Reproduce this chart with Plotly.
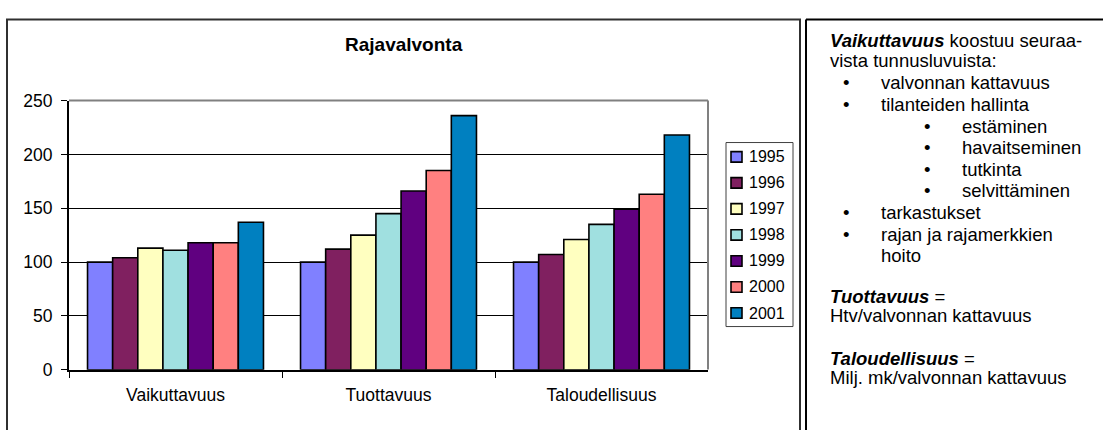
import plotly.graph_objects as go

# Chart data
categories = ["Vaikuttavuus", "Tuottavuus", "Taloudellisuus"]
years = ["1995", "1996", "1997", "1998", "1999", "2000", "2001"]
v1995 = [100, 100, 100]
v1996 = [104, 112, 107]
v1997 = [113, 125, 121]
v1998 = [111, 145, 135]
v1999 = [118, 166, 149]
v2000 = [118, 185, 163]
v2001 = [137, 236, 218]
series = [v1995, v1996, v1997, v1998, v1999, v2000, v2001]
colors = ["#8080FF", "#802060", "#FFFFC0", "#A0E0E0", "#600080", "#FF8080", "#0080C0"]
y_ticks = [0, 50, 100, 150, 200, 250]

title_text = "Rajavalvonta"

# Side panel: (text, x-pixel, y-pixel, bullet x-pixel)
side_lines = [
    ("<b><i>Vaikuttavuus</i></b> koostuu seuraa-", 828, 32, None),
    ("vista tunnusluvuista:", 828, 53, None),
    ("valvonnan kattavuus", 879, 76, 846),
    ("tilanteiden hallinta", 879, 99, 846),
    ("estäminen", 960, 122, 927),
    ("havaitseminen", 960, 144, 927),
    ("tutkinta", 960, 167, 927),
    ("selvittäminen", 960, 189, 927),
    ("tarkastukset", 879, 212, 846),
    ("rajan ja rajamerkkien", 879, 235, 846),
    ("hoito", 879, 257, None),
    ("<b><i>Tuottavuus</i></b> =", 828, 300, None),
    ("Htv/valvonnan kattavuus", 828, 320, None),
    ("<b><i>Taloudellisuus</i></b> =", 828, 365, None),
    ("Milj. mk/valvonnan kattavuus", 828, 385, None),
]

W, H = 1103, 430
FONT = "Liberation Sans, Arial, sans-serif"


def px(x):
    return x / W


def py(y):
    return 1 - y / H


fig = go.Figure()
for yr, vals, col in zip(years, series, colors):
    fig.add_bar(
        x=categories, y=vals, name=yr,
        marker=dict(color=col, line=dict(color="black", width=1.6)),
    )

shapes = []
annotations = []

# Outer chart frame and side panel frame
shapes.append(dict(type="rect", xref="paper", yref="paper",
                   x0=px(7), x1=px(800), y0=py(10), y1=py(445),
                   line=dict(color="#303030", width=2), layer="below"))
shapes.append(dict(type="line", xref="paper", yref="paper",
                   x0=px(806), x1=px(806), y0=py(10), y1=py(445),
                   line=dict(color="black", width=2)))
shapes.append(dict(type="line", xref="paper", yref="paper",
                   x0=px(806), x1=px(1110), y0=py(10), y1=py(10),
                   line=dict(color="black", width=2)))

# Plot area frame (top and right edges)
shapes.append(dict(type="line", xref="paper", yref="paper",
                   x0=px(69), x1=px(708), y0=py(95), y1=py(95),
                   line=dict(color="#808080", width=2)))
shapes.append(dict(type="line", xref="paper", yref="paper",
                   x0=px(708), x1=px(708), y0=py(95), y1=py(377),
                   line=dict(color="#808080", width=2)))

# Legend box
shapes.append(dict(type="rect", xref="paper", yref="paper",
                   x0=px(726), x1=px(793), y0=py(139), y1=py(332),
                   line=dict(color="#404040", width=1), fillcolor="white"))
for i, (yr, col) in enumerate(zip(years, colors)):
    yc = 154 + i * 27.3
    shapes.append(dict(type="rect", xref="paper", yref="paper",
                       x0=px(731), x1=px(742), y0=py(yc - 5.5), y1=py(yc + 5.5),
                       line=dict(color="black", width=1.6), fillcolor=col))
    annotations.append(dict(text=yr, x=px(747), y=py(yc), xref="paper", yref="paper",
                            xanchor="left", yanchor="middle", showarrow=False,
                            font=dict(family=FONT, size=16, color="black")))

# Title
annotations.append(dict(text="<b>" + title_text + "</b>", x=px(404), y=py(36),
                        xref="paper", yref="paper", xanchor="center", yanchor="middle",
                        showarrow=False, font=dict(family=FONT, size=19, color="black")))

# Side panel text
for text, x, y, bullet in side_lines:
    annotations.append(dict(text=text, x=px(x), y=py(y), xref="paper", yref="paper",
                            xanchor="left", yanchor="middle", showarrow=False,
                            font=dict(family=FONT, size=18.5, color="black")))
    if bullet is not None:
        annotations.append(dict(text="•", x=px(bullet), y=py(y), xref="paper", yref="paper",
                                xanchor="center", yanchor="middle", showarrow=False,
                                font=dict(family=FONT, size=18.5, color="black")))

fig.update_layout(
    width=W, height=H,
    margin=dict(l=0, r=0, t=0, b=0),
    paper_bgcolor="white", plot_bgcolor="white",
    barmode="group", bargap=0.174, bargroupgap=0,
    showlegend=False,
    font=dict(family=FONT, color="black"),
    shapes=shapes, annotations=annotations,
    xaxis=dict(
        domain=[px(69), px(708)],
        showline=True, linecolor="black", linewidth=2,
        ticks="outside", tickson="boundaries", ticklen=6, tickcolor="black", tickwidth=1,
        showgrid=False, tickfont=dict(family=FONT, size=17.5),
        ticklabelstandoff=8,
    ),
    yaxis=dict(
        domain=[py(377.3), py(95)],
        range=[0, 250], tickvals=y_ticks,
        showline=True, linecolor="black", linewidth=2,
        ticks="outside", ticklen=6, tickcolor="black", tickwidth=1,
        showgrid=True, gridcolor="black", gridwidth=1, zeroline=False,
        tickfont=dict(family=FONT, size=17.5),
        ticklabelstandoff=5,
    ),
)

fig.write_html("out.html", config={"displayModeBar": False})
